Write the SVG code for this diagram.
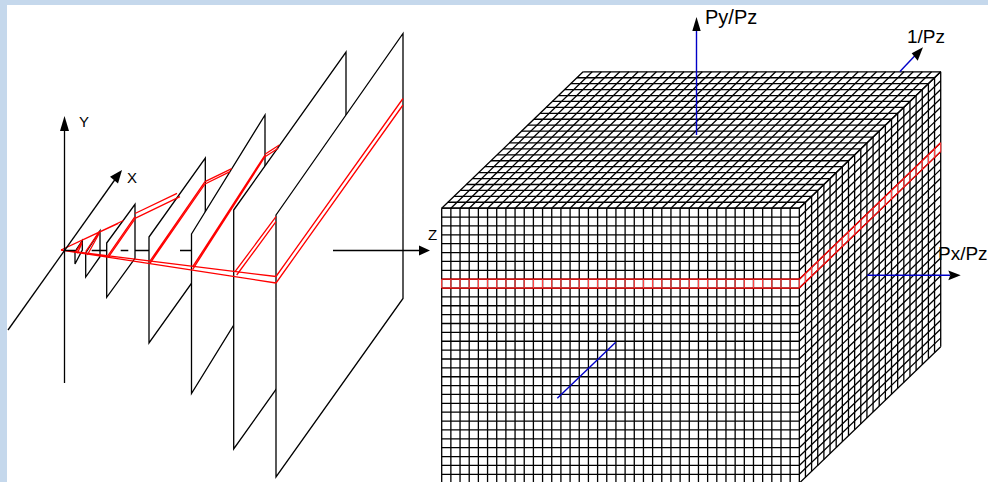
<svg xmlns="http://www.w3.org/2000/svg" width="988" height="482" viewBox="0 0 988 482">
<style>
.plane{fill:#fff;stroke:#000;stroke-width:1.3}
.ln{fill:none;stroke:#000;stroke-width:1.3}
.rd{fill:none;stroke:#f00;stroke-width:1.3}
.vr{fill:none;stroke:#f44;stroke-width:1.2}
.bl{fill:none;stroke:#0000c8;stroke-width:1.4}
.ax{fill:none;stroke:#000;stroke-width:1.3}
.hd{fill:#000;stroke:none}
text{font-family:"Liberation Sans",Arial,sans-serif;fill:#000}
</style>
<rect width="988" height="482" fill="#c5d8ec"/>
<rect x="7" y="5" width="981" height="477" fill="#fff"/>
<g id="plane-2"><path class="plane" d="M75 251.7L82.3 240.7V250L75 264Z"/></g>
<g id="plane-3"><path class="plane" d="M85.7 253L100 230.7V256.7L85.7 277Z"/></g>
<g id="plane-4"><path class="plane" d="M106.7 243L135 204.3V258.3L106.7 297.3Z"/></g>
<g id="plane-5"><path class="plane" d="M149 237L205.3 158V264L149 343Z"/></g>
<g id="plane-6"><path class="plane" d="M191.5 234L265 115V274.5L191.5 393.5Z"/></g>
<g id="plane-7"><path class="plane" d="M233.7 210L346 52V291L233.7 449Z"/></g>
<g id="plane-8"><path class="plane" d="M276 215L403 33.5V298.5L276 477Z"/></g>
<g id="red-slices">
<path class="rd" d="M61 250L276 276.5M61 250L276 283"/>
<path class="rd" d="M276 276.5L403 98.5M276 283L403 105"/>
<path class="rd" d="M235 271.7L276 216.7M236.7 275L276 221.7"/>
<path class="rd" d="M192.7 266.7L265 155M192.7 269.3L265 156.7"/>
<path class="rd" d="M150 261L205 181.7M150 263.3L205 184"/>
<path class="rd" d="M108.3 255L135 216.7M108.3 257.3L135 219"/>
<path class="rd" d="M85.7 251.7L99.3 231.7M87.3 255L99.3 233.3"/>
<path class="rd" d="M76 251.7L82 241.7M77.3 253.3L82 243.3"/>
<path class="rd" d="M61 250L123.5 220.5M61 250L118.3 223.5"/>
<path class="rd" d="M135 213.5L177 193.3M135 218.3L180 196.7"/>
<path class="rd" d="M205 181.7L231.7 168.7M205 184L230 171.7"/>
<path class="rd" d="M265 154.3L279.3 145M265 156.7L278.3 148.3"/>
</g>
<g id="cube">
<path class="ln" d="M441.7 208.2h357.6m-351.45-5.93h357.6m-351.45-5.93h357.6m-351.45-5.93h357.6m-351.45-5.93h357.6m-351.45-5.93h357.6m-351.45-5.93h357.6m-351.45-5.93h357.6m-351.45-5.93h357.6m-351.45-5.93h357.6m-351.45-5.93h357.6m-351.45-5.93h357.6m-351.45-5.93h357.6m-351.45-5.93h357.6m-351.45-5.93h357.6m-351.45-5.93h357.6m-351.45-5.93h357.6m-351.45-5.93h357.6m-351.45-5.93h357.6m-351.45-5.93h357.6m-351.45-5.93h357.6m-351.45-5.93h357.6m-351.45-5.93h357.6m-351.45-5.93h357.6"/>
<path class="ln" d="M441.7 208.2l141.4-136.4m-132.23 136.4l141.4-136.4m-132.23 136.4l141.4-136.4m-132.23 136.4l141.4-136.4m-132.23 136.4l141.4-136.4m-132.23 136.4l141.4-136.4m-132.23 136.4l141.4-136.4m-132.23 136.4l141.4-136.4m-132.23 136.4l141.4-136.4m-132.23 136.4l141.4-136.4m-132.23 136.4l141.4-136.4m-132.23 136.4l141.4-136.4m-132.23 136.4l141.4-136.4m-132.23 136.4l141.4-136.4m-132.23 136.4l141.4-136.4m-132.23 136.4l141.4-136.4m-132.23 136.4l141.4-136.4m-132.23 136.4l141.4-136.4m-132.23 136.4l141.4-136.4m-132.23 136.4l141.4-136.4m-132.23 136.4l141.4-136.4m-132.23 136.4l141.4-136.4m-132.23 136.4l141.4-136.4m-132.23 136.4l141.4-136.4m-132.23 136.4l141.4-136.4m-132.23 136.4l141.4-136.4m-132.23 136.4l141.4-136.4m-132.23 136.4l141.4-136.4m-132.23 136.4l141.4-136.4m-132.23 136.4l141.4-136.4m-132.23 136.4l141.4-136.4m-132.23 136.4l141.4-136.4m-132.23 136.4l141.4-136.4m-132.23 136.4l141.4-136.4m-132.23 136.4l141.4-136.4m-132.23 136.4l141.4-136.4m-132.23 136.4l141.4-136.4m-132.23 136.4l141.4-136.4m-132.23 136.4l141.4-136.4m-132.23 136.4l141.4-136.4"/>
<path class="ln" d="M441.7 208.2h357.6m-357.6 8.87h357.6m-357.6 8.87h357.6m-357.6 8.87h357.6m-357.6 8.87h357.6m-357.6 8.87h357.6m-357.6 8.87h357.6m-357.6 8.87h357.6m-357.6 8.87h357.6m-357.6 8.87h357.6m-357.6 8.87h357.6m-357.6 8.87h357.6m-357.6 8.87h357.6m-357.6 8.87h357.6m-357.6 8.87h357.6m-357.6 8.87h357.6m-357.6 8.87h357.6m-357.6 8.87h357.6m-357.6 8.87h357.6m-357.6 8.87h357.6m-357.6 8.87h357.6m-357.6 8.87h357.6m-357.6 8.87h357.6m-357.6 8.87h357.6m-357.6 8.87h357.6m-357.6 8.87h357.6m-357.6 8.87h357.6m-357.6 8.87h357.6m-357.6 8.87h357.6m-357.6 8.87h357.6m-357.6 8.87h357.6"/>
<path class="ln" d="M441.7 208.2v275m9.17-275v275m9.17-275v275m9.17-275v275m9.17-275v275m9.17-275v275m9.17-275v275m9.17-275v275m9.17-275v275m9.17-275v275m9.17-275v275m9.17-275v275m9.17-275v275m9.17-275v275m9.17-275v275m9.17-275v275m9.17-275v275m9.17-275v275m9.17-275v275m9.17-275v275m9.17-275v275m9.17-275v275m9.17-275v275m9.17-275v275m9.17-275v275m9.17-275v275m9.17-275v275m9.17-275v275m9.17-275v275m9.17-275v275m9.17-275v275m9.17-275v275m9.17-275v275m9.17-275v275m9.17-275v275m9.17-275v275m9.17-275v275m9.17-275v275m9.17-275v275m9.17-275v275"/>
<path class="ln" d="M805.45 202.27v275m6.148-280.93v275m6.148-280.93v275m6.148-280.93v275m6.148-280.93v275m6.148-280.93v275m6.148-280.93v275m6.148-280.93v275m6.148-280.93v275m6.148-280.93v275m6.148-280.93v275m6.148-280.93v275m6.148-280.93v275m6.148-280.93v275m6.148-280.93v275m6.148-280.93v275m6.148-280.93v275m6.148-280.93v275m6.148-280.93v275m6.148-280.93v275m6.148-280.93v275m6.148-280.93v275m6.148-280.93v275"/>
<path class="ln" d="M799.3 208.2l141.4-136.4m-141.4 145.27l141.4-136.4m-141.4 145.27l141.4-136.4m-141.4 145.27l141.4-136.4m-141.4 145.27l141.4-136.4m-141.4 145.27l141.4-136.4m-141.4 145.27l141.4-136.4m-141.4 145.27l141.4-136.4m-141.4 145.27l141.4-136.4m-141.4 145.27l141.4-136.4m-141.4 145.27l141.4-136.4m-141.4 145.27l141.4-136.4m-141.4 145.27l141.4-136.4m-141.4 145.27l141.4-136.4m-141.4 145.27l141.4-136.4m-141.4 145.27l141.4-136.4m-141.4 145.27l141.4-136.4m-141.4 145.27l141.4-136.4m-141.4 145.27l141.4-136.4m-141.4 145.27l141.4-136.4m-141.4 145.27l141.4-136.4m-141.4 145.27l141.4-136.4m-141.4 145.27l141.4-136.4m-141.4 145.27l141.4-136.4m-141.4 145.27l141.4-136.4m-141.4 145.27l141.4-136.4m-141.4 145.27l141.4-136.4m-141.4 145.27l141.4-136.4m-141.4 145.27l141.4-136.4m-141.4 145.27l141.4-136.4m-141.4 145.27l141.4-136.4m-141.4 145.27l141.4-136.4"/>
</g>
<g id="cube-slice">
<path class="rd" d="M441.7 279.16h357.6m-357.6 8.87h357.6"/>
<path class="vr" d="M441.7 279.16v8.87m9.17-8.87v8.87m9.17-8.87v8.87m9.17-8.87v8.87m9.17-8.87v8.87m9.17-8.87v8.87m9.17-8.87v8.87m9.17-8.87v8.87m9.17-8.87v8.87m9.17-8.87v8.87m9.17-8.87v8.87m9.17-8.87v8.87m9.17-8.87v8.87m9.17-8.87v8.87m9.17-8.87v8.87m9.17-8.87v8.87m9.17-8.87v8.87m9.17-8.87v8.87m9.17-8.87v8.87m9.17-8.87v8.87m9.17-8.87v8.87m9.17-8.87v8.87m9.17-8.87v8.87m9.17-8.87v8.87m9.17-8.87v8.87m9.17-8.87v8.87m9.17-8.87v8.87m9.17-8.87v8.87m9.17-8.87v8.87m9.17-8.87v8.87m9.17-8.87v8.87m9.17-8.87v8.87m9.17-8.87v8.87m9.17-8.87v8.87m9.17-8.87v8.87m9.17-8.87v8.87m9.17-8.87v8.87m9.17-8.87v8.87m9.17-8.87v8.87m9.17-8.87v8.87"/>
<path class="rd" d="M799.3 279.16l141.4-136.4m-141.4 145.27l141.4-136.4"/>
<path class="vr" d="M805.45 273.23v8.87m6.148-14.8v8.87m6.148-14.8v8.87m6.148-14.8v8.87m6.148-14.8v8.87m6.148-14.8v8.87m6.148-14.8v8.87m6.148-14.8v8.87m6.148-14.8v8.87m6.148-14.8v8.87m6.148-14.8v8.87m6.148-14.8v8.87m6.148-14.8v8.87m6.148-14.8v8.87m6.148-14.8v8.87m6.148-14.8v8.87m6.148-14.8v8.87m6.148-14.8v8.87m6.148-14.8v8.87m6.148-14.8v8.87m6.148-14.8v8.87m6.148-14.8v8.87m6.148-14.8v8.87"/>
</g>
<g id="connectors">
<path class="ax" d="M64.5 383V128"/>
<path class="hd" d="M64.5 116L69 131H60Z"/>
<path class="ax" d="M8 330L115 179.5"/>
<path class="hd" d="M122 170L118 183.5L110 176.7Z"/>
<path class="ax" d="M64 250.5H75M91.7 250.5H106.7M120.7 250.5H128.3M135 250.5H149M180 250.5H191.7M333 250.5H420"/>
<path class="hd" d="M430 250.5L419 255.5V245.5Z"/>
<path class="bl" d="M696.5 135V29"/>
<path class="hd" d="M696.5 17L700.7 31H692.3Z"/>
<path class="bl" d="M900 71.5L916 54.5"/>
<path class="hd" d="M923 47.3L917.7 60.7L911.7 53.3Z"/>
<path class="bl" d="M867 275.3H950"/>
<path class="hd" d="M960.7 275.3L948.3 280.3L950.3 275.3L948.3 270.4Z"/>
<path class="bl" d="M557.3 398.3L615.7 342.3"/>
</g>
<g id="labels">
<text x="79" y="127" font-size="15">Y</text>
<text x="127" y="183" font-size="15">X</text>
<text x="428" y="240" font-size="15">Z</text>
<text x="705" y="24" font-size="20">Py/Pz</text>
<text x="907" y="43" font-size="19">1/Pz</text>
<text x="938" y="260" font-size="19">Px/Pz</text>
</g>
</svg>
